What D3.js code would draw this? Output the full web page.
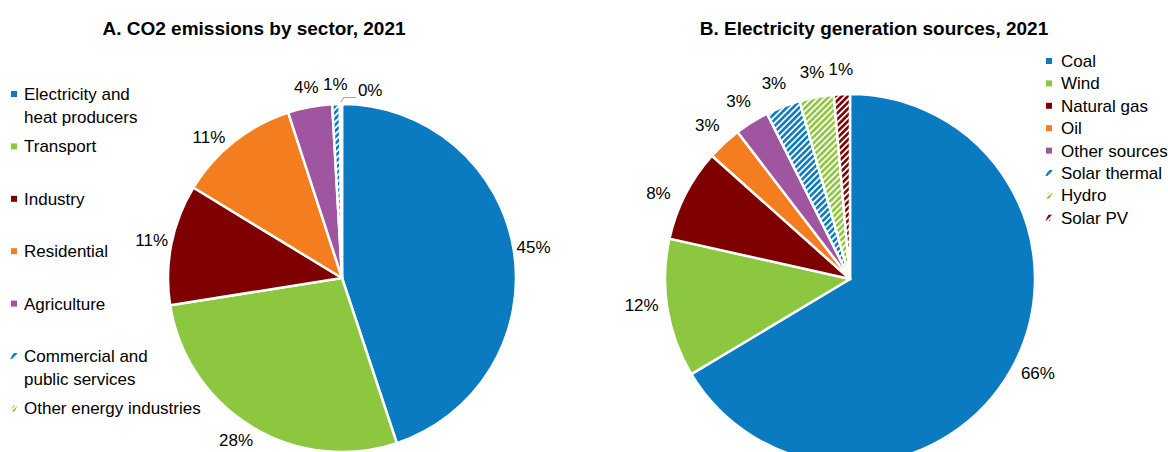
<!DOCTYPE html>
<html><head><meta charset="utf-8">
<script src="https://cdn.jsdelivr.net/npm/d3@7"></script>
<style>
body{margin:0;background:#fff}
text{font-family:"Liberation Sans",Arial,sans-serif;fill:#000}
</style>
</head><body>
<svg id="c" width="1168" height="452"></svg>
<script>
// ---------- data ----------
const titleA = "A. CO2 emissions by sector, 2021";
const categoriesA = ["Electricity and heat producers","Transport","Industry","Residential","Agriculture","Commercial and public services","Other energy industries"];
const legendLinesA = [["Electricity and","heat producers"],["Transport"],["Industry"],["Residential"],["Agriculture"],["Commercial and","public services"],["Other energy industries"]];
const valuesA = [44.9, 27.6, 11.2, 11.3, 4.1, 0.7, 0.2];

const titleB = "B. Electricity generation sources, 2021";
const categoriesB = ["Coal","Wind","Natural gas","Oil","Other sources","Solar thermal","Hydro","Solar PV"];
const valuesB = [66.4, 12.1, 8.1, 3.0, 3.0, 3.0, 3.0, 1.4];

// ---------- styles ----------
const C = {blue:"#0A7BC1", green:"#8DC63F", maroon:"#7F0000", orange:"#F47D20", purple:"#A055A0"};
const colorsA = [C.blue, C.green, C.maroon, C.orange, C.purple, C.blue, C.green];
const hatchA  = [0,0,0,0,0,1,1];
const nudgeA  = [0,1.8,0,-5,0,0,0];
const colorsB = [C.blue, C.green, C.maroon, C.orange, C.purple, C.blue, C.green, C.maroon];
const hatchB  = [0,0,0,0,0,1,1,1];
const nudgeB  = [-3,2,-3,0,0,0,0,0];

const svg = d3.select("#c");
const defs = svg.append("defs");
Object.entries(C).forEach(([k,col])=>{
  const p = defs.append("pattern").attr("id","h-"+k)
    .attr("patternUnits","userSpaceOnUse").attr("width",4.4).attr("height",4.4)
    .attr("patternTransform","rotate(45)");
  p.append("rect").attr("width",4.4).attr("height",4.4).attr("fill","#fff");
  p.append("rect").attr("width",2.6).attr("height",4.4).attr("fill",col);
});
const keyOf = col => Object.keys(C).find(k=>C[k]===col);
const fillOf = (col,h) => h ? `url(#h-${keyOf(col)})` : col;

function drawPie(cx, cy, r, values, colors, hatch, nudge, labelR, leaderIdx){
  const g = svg.append("g").attr("transform",`translate(${cx},${cy})`);
  const arcs = d3.pie().sort(null).value(d=>d)(values);
  const arc = d3.arc().innerRadius(0).outerRadius(r);
  g.selectAll("path.s").data(arcs).join("path").attr("class","s")
    .attr("d",arc)
    .attr("fill",(d,i)=>fillOf(colors[i],hatch[i]))
    .attr("stroke","#fff").attr("stroke-width",2.5).attr("stroke-linejoin","round");
  arcs.forEach((d,i)=>{
    const a = (d.startAngle+d.endAngle)/2 + nudge[i]*Math.PI/180;
    const txt = Math.round(d.value)+"%";
    if(i===leaderIdx){
      const x0 = (r+2)*Math.sin(a), y0 = -(r+2)*Math.cos(a);
      const x1 = x0+3, y1 = -r-6.5, x2 = x1+12;
      g.append("path").attr("d",`M${x0},${y0}L${x1},${y1}L${x2},${y1}`)
        .attr("fill","none").attr("stroke","#A6A6A6").attr("stroke-width",1.2);
      g.append("text").attr("x",x2+2).attr("y",y1-7).attr("dy","0.35em")
        .attr("font-size",17).text(txt);
    } else {
      g.append("text").attr("x",labelR*Math.sin(a)).attr("y",-labelR*Math.cos(a))
        .attr("dy","0.35em").attr("text-anchor","middle").attr("font-size",17).text(txt);
    }
  });
}

function marker(x,y,col,h){
  if(h){
    svg.append("path").attr("d",`M${x-3.6},${y+3}L${x-0.6},${y-3}L${x+3.6},${y-3}L${x+0.6},${y+3}Z`)
      .attr("fill",fillOf(col,1));
  } else {
    svg.append("rect").attr("x",x-3).attr("y",y-3).attr("width",6).attr("height",6).attr("fill",col);
  }
}

// titles
svg.append("text").attr("x",254).attr("y",35).attr("text-anchor","middle")
  .attr("font-size",19).attr("font-weight","bold").text(titleA);
svg.append("text").attr("x",874).attr("y",35).attr("text-anchor","middle")
  .attr("font-size",19).attr("font-weight","bold").text(titleB);

drawPie(342, 278, 174, valuesA, colorsA, hatchA, nudgeA, 194, 6);
drawPie(850, 279, 185, valuesB, colorsB, hatchB, nudgeB, 210, -1);

// legend A
legendLinesA.forEach((lines,i)=>{
  const y = 94 + i*52.4;
  marker(14, y, colorsA[i], hatchA[i]);
  const t = svg.append("text").attr("x",24).attr("y",y).attr("dy","0.35em").attr("font-size",17);
  lines.forEach((ln,j)=>t.append("tspan").attr("x",24).attr("dy", j===0?"0.35em":"23px").text(ln));
});
// legend B
categoriesB.forEach((c,i)=>{
  const y = 61 + i*22.4;
  marker(1049, y, colorsB[i], hatchB[i]);
  svg.append("text").attr("x",1061).attr("y",y).attr("dy","0.35em").attr("font-size",17).text(c);
});
</script>
</body></html>
